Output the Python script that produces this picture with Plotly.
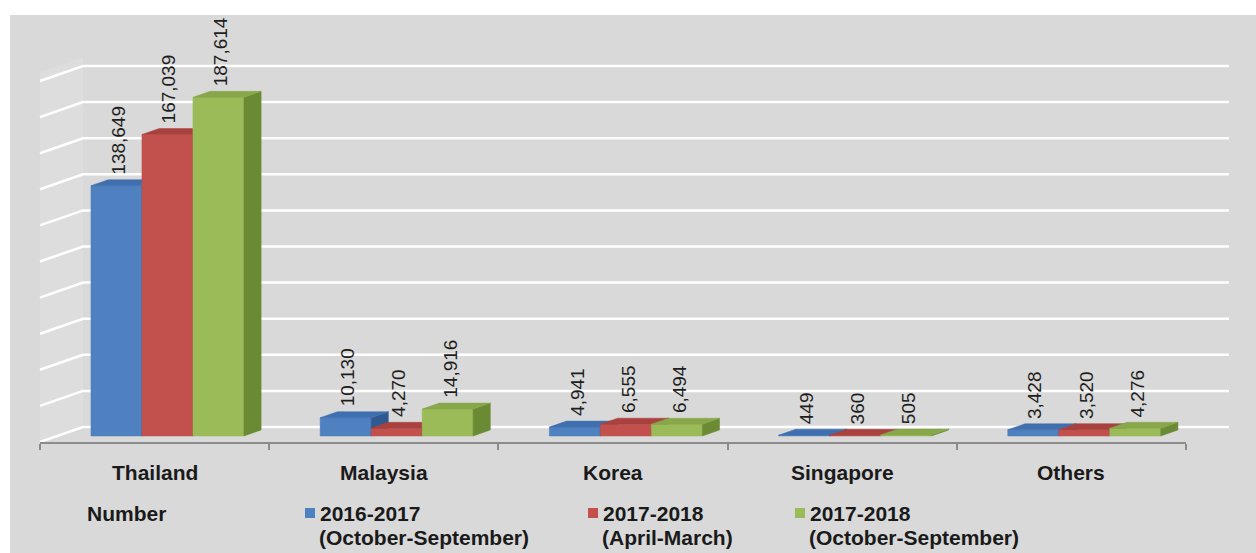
import plotly.graph_objects as go

# ---- data -------------------------------------------------------------
categories = ["Thailand", "Malaysia", "Korea", "Singapore", "Others"]
series_years = ["2016-2017", "2017-2018", "2017-2018"]
series_periods = ["(October-September)", "(April-March)", "(October-September)"]
oct_sep_2016_17 = [138649, 10130, 4941, 449, 3428]
apr_mar_2017_18 = [167039, 4270, 6555, 360, 3520]
oct_sep_2017_18 = [187614, 14916, 6494, 505, 4276]
grid_values = list(range(0, 200001, 20000))
legend_title = "Number"

series_values = [oct_sep_2016_17, apr_mar_2017_18, oct_sep_2017_18]

# ---- styling / geometry -------------------------------------------------
W, H = 1256, 553
FRONT_COLORS = ["#4f80bf", "#c2504d", "#9bbb59"]
TOP_COLORS = ["#3f6fae", "#a9423f", "#87a74a"]
SIDE_COLORS = ["#30598f", "#8a302e", "#6a8a33"]
BG = "#d9d9d9"
FONT = "Liberation Sans, Arial, sans-serif"

CAT_PX = 229.2            # pixel width of one category slot
LEFT_PX = 40              # pixel position of the floor's front-left corner
FLOOR_PX = 442            # pixel row of the floor's front edge
PX_PER_UNIT = 361 / 200000
DX = 43 / CAT_PX          # depth offset (x units) from floor front to back wall
DY = 15 / PX_PER_UNIT     # depth offset (value units) from floor front to back wall
BAR_W = 0.2225
GROUP_SHIFT = -0.019
BAR_D0, BAR_D1 = 0.4, 0.8  # bar front / back depth fraction

LEGEND_ROW1 = 513
LEGEND_ROW2 = 537

x_lo = -0.5 - LEFT_PX / CAT_PX
x_hi = x_lo + W / CAT_PX
y_hi = FLOOR_PX / PX_PER_UNIT


def proj(x, v, d):
    """Oblique projection: category x, value v, depth fraction d."""
    return x + d * DX, v + d * DY


def poly(points):
    xs, ys = [], []
    for p in points:
        px, py = proj(*p)
        xs.append(px)
        ys.append(py)
    xs.append(xs[0])
    ys.append(ys[0])
    return xs, ys


fig = go.Figure()

# left wall (slightly lighter)
wx, wy = poly([(-0.5, 0, 0), (-0.5, 205000, 0), (-0.5, 205000, 1), (-0.5, 0, 1)])
fig.add_trace(go.Scatter(x=wx, y=wy, mode="lines", fill="toself",
                         fillcolor="#dddddd", line=dict(width=0),
                         hoverinfo="skip", showlegend=False))

# gridlines: diagonal on the side wall, horizontal on the back wall
gx, gy = [], []
for v in grid_values:
    for p in [(-0.5, v, 0), (-0.5, v, 1), (4.5, v, 1)]:
        px, py = proj(*p)
        gx.append(px)
        gy.append(py)
    gx.append(None)
    gy.append(None)
fig.add_trace(go.Scatter(x=gx, y=gy, mode="lines",
                         line=dict(color="white", width=2.5),
                         hoverinfo="skip", showlegend=False))

# 3D bars: front, top and side faces per series
annotations = []
for j, vals in enumerate(series_values):
    faces = {"front": ([], []), "top": ([], []), "side": ([], [])}
    for i, val in enumerate(vals):
        xc = i + GROUP_SHIFT + (j - 1) * BAR_W
        x0, x1 = xc - BAR_W / 2, xc + BAR_W / 2
        shapes = {
            "front": [(x0, 0, BAR_D0), (x0, val, BAR_D0), (x1, val, BAR_D0), (x1, 0, BAR_D0)],
            "top": [(x0, val, BAR_D0), (x0, val, BAR_D1), (x1, val, BAR_D1), (x1, val, BAR_D0)],
            "side": [(x1, 0, BAR_D0), (x1, val, BAR_D0), (x1, val, BAR_D1), (x1, 0, BAR_D1)],
        }
        for k, pts in shapes.items():
            px, py = poly(pts)
            faces[k][0].extend(px + [None])
            faces[k][1].extend(py + [None])
        lx, ly = proj(xc, val, BAR_D0)
        annotations.append(dict(
            x=lx, y=ly, xref="x", yref="y", text=f"{val:,}", showarrow=False,
            textangle=-90, xanchor="center", yanchor="bottom", yshift=9, xshift=2,
            font=dict(family=FONT, size=19, color="#1e1e1e")))
    for k, colors in [("front", FRONT_COLORS), ("side", SIDE_COLORS), ("top", TOP_COLORS)]:
        fig.add_trace(go.Scatter(
            x=faces[k][0], y=faces[k][1], mode="lines", fill="toself",
            fillcolor=colors[j], line=dict(width=0.5, color=colors[j]),
            hoverinfo="skip", showlegend=False))

# carrier trace for the category axis line
fig.add_trace(go.Scatter(x=[None], y=[None], xaxis="x2", yaxis="y",
                         hoverinfo="skip", showlegend=False))

# category labels
for i, name in enumerate(categories):
    annotations.append(dict(
        x=i, y=1 - 472 / H, xref="x", yref="paper", text=f"<b>{name}</b>",
        showarrow=False, xanchor="center", yanchor="middle",
        font=dict(family=FONT, size=21, color="#1a1a1a")))

# legend drawn as text blocks with colour swatches
annotations.append(dict(
    x=85 / W, y=1 - LEGEND_ROW1 / H, xref="paper", yref="paper",
    text=f"<b>{legend_title}</b>", showarrow=False, xanchor="left", yanchor="middle",
    font=dict(family=FONT, size=21, color="#1a1a1a")))
legend_x = [318, 601, 808]
shapes = [dict(type="rect", xref="paper", yref="paper", x0=10 / W, x1=1,
               y0=0, y1=1 - 15 / H, fillcolor=BG, line=dict(width=0), layer="below")]
for j in range(3):
    lx = legend_x[j]
    shapes.append(dict(type="rect", xref="paper", yref="paper",
                       x0=(lx - 13) / W, x1=(lx - 3) / W,
                       y0=1 - (LEGEND_ROW1 + 5) / H, y1=1 - (LEGEND_ROW1 - 5) / H,
                       fillcolor=FRONT_COLORS[j], line=dict(width=0)))
    annotations.append(dict(
        x=lx / W, y=1 - LEGEND_ROW1 / H, xref="paper", yref="paper",
        text=f"<b>{series_years[j]}</b>", showarrow=False,
        xanchor="left", yanchor="middle",
        font=dict(family=FONT, size=21, color="#1a1a1a")))
    annotations.append(dict(
        x=(lx - 1) / W, y=1 - LEGEND_ROW2 / H, xref="paper", yref="paper",
        text=f"<b>{series_periods[j]}</b>", showarrow=False,
        xanchor="left", yanchor="middle",
        font=dict(family=FONT, size=21, color="#1a1a1a")))

fig.update_layout(
    width=W, height=H, autosize=False,
    margin=dict(l=0, r=0, t=0, b=0),
    paper_bgcolor="white", plot_bgcolor="rgba(0,0,0,0)",
    showlegend=False,
    xaxis=dict(domain=[0, 1], range=[x_lo, x_hi], visible=False, fixedrange=True),
    xaxis2=dict(domain=[LEFT_PX / W, (LEFT_PX + 5 * CAT_PX) / W], range=[-0.5, 4.5],
                anchor="y", showline=True, linecolor="#8c8c8c", linewidth=2,
                ticks="outside", ticklen=6, tickwidth=2, tickcolor="#8c8c8c",
                tickvals=[-0.5, 0.5, 1.5, 2.5, 3.5, 4.5], showticklabels=False,
                showgrid=False, zeroline=False, fixedrange=True),
    yaxis=dict(domain=[1 - FLOOR_PX / H, 1], range=[0, y_hi], visible=False,
               anchor="x", fixedrange=True),
    shapes=shapes,
    annotations=annotations,
)

fig.write_html("out.html")
